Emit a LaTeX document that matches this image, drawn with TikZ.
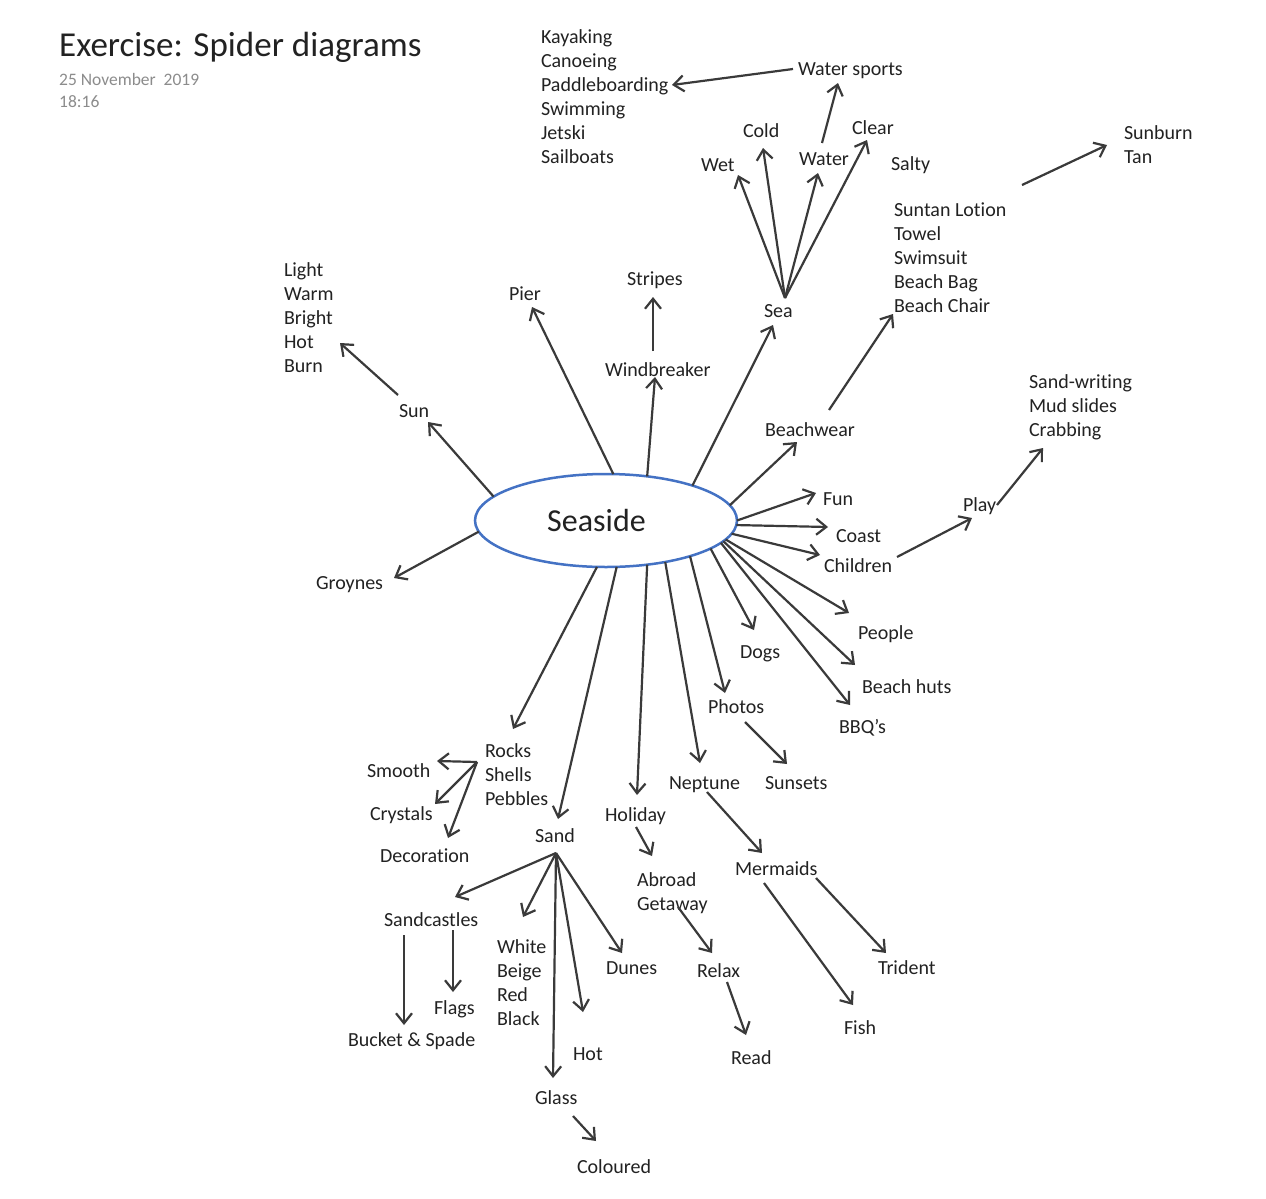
\documentclass[tikz,border=0pt]{standalone}
\usepackage{fontspec}
\setmainfont{Carlito}[Ligatures=NoCommon]
\usetikzlibrary{arrows.meta,shapes.geometric}
\definecolor{linec}{HTML}{3A3A3A}
\definecolor{txtc}{HTML}{222222}
\definecolor{seablue}{HTML}{4472C4}
\definecolor{dategray}{HTML}{8C8C8C}
\newcommand\lblfont{\fontsize{20}{24}\selectfont}
\begin{document}
\begin{tikzpicture}[x=1pt,y=-1pt,
  arr/.style={draw=linec, line width=2.2pt, -{Straight Barb[length=10pt,width=16pt]}},
  lbl/.style={anchor=base west, inner sep=0pt, outer sep=0pt, font=\lblfont, text=txtc},
  lst/.style={anchor=north west, inner sep=0pt, outer sep=0pt, align=left, font=\lblfont, text=txtc}]
\useasboundingbox[fill=white] (0,0) rectangle (1266,1199);

% title
\node[anchor=base west, inner sep=0pt, font=\fontsize{35}{40}\selectfont, text=txtc] (title) at (59,57) {Exercise: Spider diagrams};
\node[anchor=base west, inner sep=0pt, font=\fontsize{17.5}{22}\selectfont, text=dategray] (date) at (59,85) {25 November\ \ 2019};
\node[anchor=base west, inner sep=0pt, font=\fontsize{17.5}{22}\selectfont, text=dategray] (time) at (59,107) {18:16};

% centre
\node[ellipse, draw=seablue, line width=2.5pt, minimum width=262pt, minimum height=93pt,
      inner sep=0pt, outer sep=0pt, font=\fontsize{32}{38}\selectfont, text=txtc]
      (seaside) at (606,520.5) {Seaside\hspace*{19pt}};

% labels
\node[lst] (kayak) at (541,26.2) {\strut Kayaking\\Canoeing\\Paddleboarding\\Swimming\\Jetski\\Sailboats};
\node[lbl] (wsports) at (798,75) {Water sports};
\node[lbl] (cold) at (743,137) {Cold};
\node[lbl] (clear) at (852,134) {Clear};
\node[lbl] (wet) at (701,171) {Wet};
\node[lbl] (water) at (799,165) {Water};
\node[lbl] (salty) at (891,170) {Salty};
\node[lbl] (sea) at (764,317) {Sea};
\node[lst] (sunburn) at (1124,122.2) {\strut Sunburn\\Tan};
\node[lst] (suntan) at (894,199.2) {\strut Suntan Lotion\\Towel\\Swimsuit\\Beach Bag\\Beach Chair};
\node[lbl] (beachwear) at (765,436) {Beachwear};
\node[lst] (sandwr) at (1029,371.2) {\strut Sand-writing\\Mud slides\\Crabbing};
\node[lbl] (play) at (963,511) {Play};
\node[lbl] (fun) at (823,505) {Fun};
\node[lbl] (coast) at (836,542) {Coast};
\node[lbl] (children) at (824,572) {Children};
\node[lbl] (people) at (858,639) {People};
\node[lbl] (huts) at (862,693) {Beach huts};
\node[lbl] (bbq) at (839,733) {BBQ's};
\node[lbl] (dogs) at (740,658) {Dogs};
\node[lbl] (photos) at (708,713) {Photos};
\node[lbl] (sunsets) at (765,789) {Sunsets};
\node[lbl] (neptune) at (669,789) {Neptune};
\node[lbl] (mermaids) at (735,875) {Mermaids};
\node[lbl] (trident) at (878,974) {Trident};
\node[lbl] (fish) at (844,1034) {Fish};
\node[lbl] (holiday) at (605,821) {Holiday};
\node[lst] (abroad) at (637,869.2) {\strut Abroad\\Getaway};
\node[lbl] (relax) at (697,977) {Relax};
\node[lbl] (read) at (731,1064) {Read};
\node[lbl] (pier) at (509,300) {Pier};
\node[lbl] (stripes) at (627,285) {Stripes};
\node[lbl] (windb) at (605,376) {Windbreaker};
\node[lst] (light) at (284,259.2) {\strut Light\\Warm\\Bright\\Hot\\Burn};
\node[lbl] (sun) at (399,417) {Sun};
\node[lbl] (groynes) at (316,589) {Groynes};
\node[lst] (rocks) at (485,740.2) {\strut Rocks\\Shells\\Pebbles};
\node[lbl] (smooth) at (367,777) {Smooth};
\node[lbl] (crystals) at (370,820) {Crystals};
\node[lbl] (decor) at (380,862) {Decoration};
\node[lbl] (sand) at (535,842) {Sand};
\node[lbl] (sandc) at (384,926) {Sandcastles};
\node[lst] (white) at (497,936.2) {\strut White\\Beige\\Red\\Black};
\node[lbl] (dunes) at (606,974) {Dunes};
\node[lbl] (hot) at (573,1060) {Hot};
\node[lbl] (glass) at (535,1104) {Glass};
\node[lbl] (coloured) at (577,1173) {Coloured};
\node[lbl] (flags) at (434,1014) {Flags};
\node[lbl] (bucket) at (348,1046) {Bucket \& Spade};

% connector end points
\coordinate (sunT) at (428,422);
\coordinate (sunS) at (398,395);   \coordinate (burnT) at (340,343);
\coordinate (groyT) at (394,578);
\coordinate (pierT) at (532,307);
\coordinate (windT) at (655,377);
\coordinate (windS) at (653,351);  \coordinate (stripT) at (653,297);
\coordinate (seaT) at (773,325);
\coordinate (seaS) at (785,298);
\coordinate (wetT) at (738,175);
\coordinate (coldT) at (763,148);
\coordinate (waterT) at (818,173);
\coordinate (clearT) at (867,140);
\coordinate (waterS) at (822,143); \coordinate (wspT) at (838,83);
\coordinate (wspS) at (793,69);    \coordinate (paddleT) at (672,85);
\coordinate (burnS) at (1022,185); \coordinate (sunbT) at (1107,145);
\coordinate (bwT) at (797,442);
\coordinate (bwS) at (829,410);    \coordinate (chairT) at (893,314);
\coordinate (funT) at (816,493);
\coordinate (coastT) at (828,527);
\coordinate (childT) at (820,555);
\coordinate (childS) at (897,557); \coordinate (playT) at (972,518);
\coordinate (playS) at (997,505);  \coordinate (crabT) at (1043,448);
\coordinate (peopleT) at (849,613);
\coordinate (hutsT) at (855,665);
\coordinate (bbqT) at (850,705);
\coordinate (dogsT) at (754,630);
\coordinate (photoT) at (725,693);
\coordinate (photoS) at (745,722); \coordinate (sunsetT) at (787,764);
\coordinate (nepT) at (700,763);
\coordinate (nepS) at (707,792);   \coordinate (mermT) at (762,853);
\coordinate (mermS1) at (816,878); \coordinate (tridT) at (886,953);
\coordinate (mermS2) at (764,883); \coordinate (fishT) at (853,1005);
\coordinate (holT) at (637,795);
\coordinate (holS) at (636,827);   \coordinate (abrT) at (652,856);
\coordinate (getS) at (678,907);   \coordinate (relaxT) at (712,953);
\coordinate (relaxS) at (727,982); \coordinate (readT) at (746,1035);
\coordinate (sandT) at (558,819);
\coordinate (rocksT) at (513,729);
\coordinate (rocksS) at (477,762);
\coordinate (smoothT) at (437,761);
\coordinate (crysT) at (435,804);
\coordinate (decT) at (448,838);
\coordinate (sandS) at (556,853);
\coordinate (castT) at (455,897);
\coordinate (whiteT) at (523,917);
\coordinate (glassT) at (553,1078);
\coordinate (hotT) at (583,1012);
\coordinate (dunesT) at (622,953);
\coordinate (castS1) at (404,935); \coordinate (bucketT) at (404,1025);
\coordinate (castS2) at (453,930); \coordinate (flagsT) at (453,992);
\coordinate (glassS) at (573,1116); \coordinate (colT) at (596,1141);

% connectors
\draw[arr] (seaside.168.4) -- (sunT);
\draw[arr] (sunS) -- (burnT);
\draw[arr] (seaside.185.6) -- (groyT);
\draw[arr] (seaside.81.6) -- (pierT);
\draw[arr] (seaside.47.3) -- (windT);
\draw[arr] (windS) -- (stripT);
\draw[arr] (seaside.22.8) -- (seaT);
\draw[arr] (seaS) -- (wetT);
\draw[arr] (seaS) -- (coldT);
\draw[arr] (seaS) -- (waterT);
\draw[arr] (seaS) -- (clearT);
\draw[arr] (waterS) -- (wspT);
\draw[arr] (wspS) -- (paddleT);
\draw[arr] (burnS) -- (sunbT);
\draw[arr] (seaside.7.1) -- (bwT);
\draw[arr] (bwS) -- (chairT);
\draw[arr] (seaside.-0.7) -- (funT);
\draw[arr] (seaside.-2.8) -- (coastT);
\draw[arr] (seaside.-6.6) -- (childT);
\draw[arr] (childS) -- (playT);
\draw[arr] (playS) -- (crabT);
\draw[arr] (seaside.-9.1) -- (peopleT);
\draw[arr] (seaside.-10.7) -- (hutsT);
\draw[arr] (seaside.-11.9) -- (bbqT);
\draw[arr] (seaside.-15.4) -- (dogsT);
\draw[arr] (seaside.-23.5) -- (photoT);
\draw[arr] (photoS) -- (sunsetT);
\draw[arr] (seaside.-35.3) -- (nepT);
\draw[arr] (nepS) -- (mermT);
\draw[arr] (mermS1) -- (tridT);
\draw[arr] (mermS2) -- (fishT);
\draw[arr] (seaside.-47.3) -- (holT);
\draw[arr] (holS) -- (abrT);
\draw[arr] (getS) -- (relaxT);
\draw[arr] (relaxS) -- (readT);
\draw[arr] (seaside.-77.9) -- (sandT);
\draw[arr] (seaside.-101) -- (rocksT);
\draw[arr] (rocksS) -- (smoothT);
\draw[arr] (rocksS) -- (crysT);
\draw[arr] (rocksS) -- (decT);
\draw[arr] (sandS) -- (castT);
\draw[arr] (sandS) -- (whiteT);
\draw[arr] (sandS) -- (glassT);
\draw[arr] (sandS) -- (hotT);
\draw[arr] (sandS) -- (dunesT);
\draw[arr] (castS1) -- (bucketT);
\draw[arr] (castS2) -- (flagsT);
\draw[arr] (glassS) -- (colT);
\end{tikzpicture}
\end{document}
